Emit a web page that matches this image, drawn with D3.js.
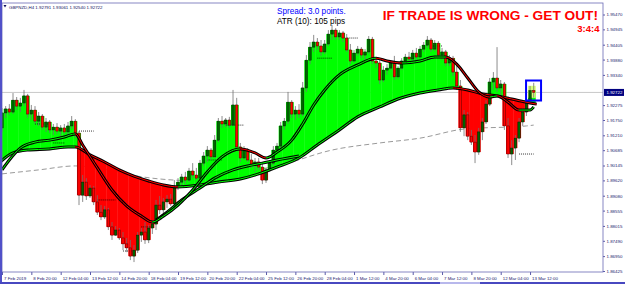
<!DOCTYPE html>
<html>
<head>
<meta charset="utf-8">
<script src="https://cdn.jsdelivr.net/npm/d3@7"></script>
<style>
  body { margin: 0; background: #fff; }
  svg { display: block; font-family: 'Liberation Sans', Arial, sans-serif; }
  .axis text { font-family: 'Liberation Sans', Arial, sans-serif; font-size: 4.4px; fill: #1a1a6e; }
  .axis line { stroke: #5a5aa8; }
</style>
</head>
<body>
<div id="chart-area"></div>
<script>
// GBPNZD H4 candles, 7 Feb 12:00 .. 13 Mar 16:00
let opens = [
  1.9147, 1.9200, 1.9214, 1.9203, 1.9245, 1.9224, 1.9235, 1.9260, 1.9196, 1.9210,
  1.9171, 1.9189, 1.9150, 1.9168, 1.9140, 1.9150, 1.9136, 1.9147, 1.9133, 1.9154,
  1.9171, 1.9129, 1.8910, 1.8956, 1.8907, 1.8935, 1.8886, 1.8850, 1.8833, 1.8858,
  1.8798, 1.8769, 1.8787, 1.8759, 1.8738, 1.8724, 1.8695, 1.8716, 1.8769, 1.8780,
  1.8752, 1.8794, 1.8808, 1.8875, 1.8858, 1.8886, 1.8896, 1.8879, 1.8942, 1.8956,
  1.8974, 1.8963, 1.8995, 1.8981, 1.8970, 1.9023, 1.9048, 1.9069, 1.9045, 1.9104,
  1.9171, 1.9161, 1.9175, 1.9157, 1.9228, 1.9080, 1.9041, 1.9069, 1.9034, 1.9016,
  1.9027, 1.9009, 1.8963, 1.8999, 1.9023, 1.9069, 1.9083, 1.9154, 1.9171, 1.9238,
  1.9196, 1.9210, 1.9196, 1.9288, 1.9386, 1.9432, 1.9450, 1.9436, 1.9415, 1.9443,
  1.9478, 1.9492, 1.9468, 1.9482, 1.9464, 1.9422, 1.9383, 1.9411, 1.9425, 1.9404,
  1.9415, 1.9460, 1.9383, 1.9376, 1.9316, 1.9351, 1.9358, 1.9376, 1.9327, 1.9358,
  1.9383, 1.9397, 1.9390, 1.9411, 1.9397, 1.9425, 1.9439, 1.9457, 1.9425, 1.9446,
  1.9404, 1.9415, 1.9376, 1.9393, 1.9344, 1.9295, 1.9147, 1.9193, 1.9118, 1.9097,
  1.9062, 1.9133, 1.9168, 1.9231, 1.9309, 1.9323, 1.9288, 1.9302, 1.9154, 1.9055,
  1.9076, 1.9111, 1.9168, 1.9203, 1.9245, 1.92791
];
let highs = [
  1.9217, 1.9224, 1.9231, 1.9270, 1.9256, 1.9253, 1.9281, 1.9267, 1.9228, 1.9224,
  1.9203, 1.9196, 1.9182, 1.9175, 1.9161, 1.9164, 1.9157, 1.9161, 1.9168, 1.9189,
  1.9178, 1.9136, 1.8981, 1.8970, 1.8946, 1.8942, 1.8910, 1.8875, 1.8872, 1.8865,
  1.8815, 1.8801, 1.8794, 1.8780, 1.8759, 1.8752, 1.8734, 1.8780, 1.8794, 1.8815,
  1.8805, 1.8822, 1.8893, 1.8907, 1.8900, 1.8910, 1.8914, 1.8963, 1.8970, 1.8985,
  1.8992, 1.9006, 1.9023, 1.9006, 1.9034, 1.9062, 1.9083, 1.9076, 1.9122, 1.9182,
  1.9189, 1.9182, 1.9186, 1.9281, 1.9253, 1.9094, 1.9083, 1.9076, 1.9055, 1.9041,
  1.9041, 1.9020, 1.9006, 1.9034, 1.9083, 1.9094, 1.9168, 1.9182, 1.9274, 1.9245,
  1.9224, 1.9231, 1.9309, 1.9404, 1.9450, 1.9475, 1.9464, 1.9457, 1.9457, 1.9492,
  1.9510, 1.9499, 1.9492, 1.9489, 1.9478, 1.9443, 1.9422, 1.9436, 1.9432, 1.9425,
  1.9471, 1.9468, 1.9393, 1.9386, 1.9365, 1.9372, 1.9386, 1.9401, 1.9365, 1.9393,
  1.9408, 1.9415, 1.9422, 1.9429, 1.9436, 1.9450, 1.9471, 1.9464, 1.9457, 1.9453,
  1.9429, 1.9422, 1.9404, 1.9401, 1.9372, 1.9316, 1.9210, 1.9203, 1.9140, 1.9122,
  1.9147, 1.9182, 1.9245, 1.9323, 1.9344, 1.9432, 1.9316, 1.9309, 1.9182, 1.9104,
  1.9122, 1.9182, 1.9217, 1.9263, 1.9295, 1.93061
];
let lows = [
  1.9133, 1.9182, 1.9193, 1.9196, 1.9210, 1.9203, 1.9224, 1.9182, 1.9175, 1.9161,
  1.9154, 1.9140, 1.9133, 1.9129, 1.9122, 1.9126, 1.9118, 1.9126, 1.9122, 1.9143,
  1.9111, 1.8875, 1.8886, 1.8893, 1.8900, 1.8875, 1.8840, 1.8822, 1.8826, 1.8787,
  1.8752, 1.8766, 1.8752, 1.8716, 1.8709, 1.8681, 1.8674, 1.8706, 1.8745, 1.8738,
  1.8741, 1.8773, 1.8787, 1.8843, 1.8847, 1.8865, 1.8872, 1.8872, 1.8928, 1.8942,
  1.8949, 1.8956, 1.8970, 1.8963, 1.8963, 1.9013, 1.9027, 1.9034, 1.9041, 1.9097,
  1.9147, 1.9150, 1.9147, 1.9154, 1.9069, 1.9027, 1.9034, 1.9027, 1.9006, 1.8992,
  1.8999, 1.8949, 1.8953, 1.8992, 1.9016, 1.9059, 1.9076, 1.9140, 1.9161, 1.9182,
  1.9175, 1.9182, 1.9189, 1.9274, 1.9372, 1.9415, 1.9422, 1.9401, 1.9408, 1.9436,
  1.9457, 1.9457, 1.9457, 1.9450, 1.9415, 1.9372, 1.9379, 1.9401, 1.9393, 1.9386,
  1.9408, 1.9372, 1.9358, 1.9302, 1.9309, 1.9334, 1.9351, 1.9316, 1.9320, 1.9351,
  1.9372, 1.9379, 1.9383, 1.9386, 1.9393, 1.9415, 1.9429, 1.9415, 1.9418, 1.9393,
  1.9386, 1.9365, 1.9365, 1.9330, 1.9281, 1.9133, 1.9118, 1.9104, 1.9087, 1.9023,
  1.9052, 1.9104, 1.9161, 1.9224, 1.9281, 1.9274, 1.9253, 1.9140, 1.9041, 1.9016,
  1.9034, 1.9097, 1.9154, 1.9189, 1.9231, 1.92540
];
let closes = [
  1.9200, 1.9214, 1.9203, 1.9245, 1.9224, 1.9235, 1.9260, 1.9196, 1.9210, 1.9171,
  1.9189, 1.9150, 1.9168, 1.9140, 1.9150, 1.9136, 1.9147, 1.9133, 1.9154, 1.9171,
  1.9129, 1.8910, 1.8956, 1.8907, 1.8935, 1.8886, 1.8850, 1.8833, 1.8858, 1.8798,
  1.8769, 1.8787, 1.8759, 1.8738, 1.8724, 1.8695, 1.8716, 1.8769, 1.8780, 1.8752,
  1.8794, 1.8808, 1.8875, 1.8858, 1.8886, 1.8896, 1.8879, 1.8942, 1.8956, 1.8974,
  1.8963, 1.8995, 1.8981, 1.8970, 1.9023, 1.9048, 1.9069, 1.9045, 1.9104, 1.9171,
  1.9161, 1.9175, 1.9157, 1.9228, 1.9080, 1.9041, 1.9069, 1.9034, 1.9016, 1.9027,
  1.9009, 1.8963, 1.8999, 1.9023, 1.9069, 1.9083, 1.9154, 1.9171, 1.9238, 1.9196,
  1.9210, 1.9196, 1.9288, 1.9386, 1.9432, 1.9450, 1.9436, 1.9415, 1.9443, 1.9478,
  1.9492, 1.9468, 1.9482, 1.9464, 1.9422, 1.9383, 1.9411, 1.9425, 1.9404, 1.9415,
  1.9460, 1.9383, 1.9376, 1.9316, 1.9351, 1.9358, 1.9376, 1.9327, 1.9358, 1.9383,
  1.9397, 1.9390, 1.9411, 1.9397, 1.9425, 1.9439, 1.9457, 1.9425, 1.9446, 1.9404,
  1.9415, 1.9376, 1.9393, 1.9344, 1.9295, 1.9147, 1.9193, 1.9118, 1.9097, 1.9062,
  1.9133, 1.9168, 1.9231, 1.9309, 1.9323, 1.9288, 1.9302, 1.9154, 1.9055, 1.9076,
  1.9111, 1.9168, 1.9203, 1.9245, 1.92791, 1.92722
];

// Indicator lines at sample bars
let slowBars = [0, 3, 7, 13, 18, 20, 24, 28, 32, 36, 40, 44, 48, 54, 59, 65, 70, 75, 81, 86, 92, 97, 103, 108, 114, 119, 123, 127, 131, 135, 139, 144, 145];
let slowVals = [1.9023, 1.9059, 1.9069, 1.9073, 1.9080, 1.9080, 1.9052, 1.9027, 1.8999, 1.8977, 1.8960, 1.8946, 1.8939, 1.8946, 1.8956, 1.8967, 1.8985, 1.9009, 1.9041, 1.9087, 1.9140, 1.9186, 1.9221, 1.9249, 1.9270, 1.9281, 1.9288, 1.9281, 1.9267, 1.9260, 1.9249, 1.9235, 1.9231];

let fastBars = [0, 2, 5, 9, 13, 17, 20, 22, 26, 30, 34, 38, 41, 44, 48, 52, 56, 60, 65, 69, 72, 75, 79, 82, 85, 88, 92, 97, 102, 105, 109, 114, 118, 121, 124, 127, 130, 133, 135, 138, 141, 144, 145];
let fastVals = [1.8999, 1.9034, 1.9076, 1.9097, 1.9104, 1.9115, 1.9126, 1.9087, 1.9006, 1.8928, 1.8872, 1.8836, 1.8815, 1.8836, 1.8875, 1.8928, 1.8992, 1.9045, 1.9073, 1.9059, 1.9041, 1.9062, 1.9104, 1.9161, 1.9228, 1.9281, 1.9334, 1.9369, 1.9393, 1.9383, 1.9376, 1.9383, 1.9397, 1.9397, 1.9372, 1.9323, 1.9274, 1.9256, 1.9260, 1.9238, 1.9210, 1.9210, 1.9221];

let midBars = [42, 45, 49, 54, 58, 63, 67, 71, 75, 78, 81];
let midVals = [1.8822, 1.8850, 1.8893, 1.8935, 1.8970, 1.8999, 1.9013, 1.9023, 1.9034, 1.9041, 1.9048];

let longBars = [0, 10, 20, 29, 37, 47, 54, 59, 65, 76, 90, 103, 114, 126, 143, 145];
let longVals = [1.8985, 1.8999, 1.9013, 1.8999, 1.8977, 1.8963, 1.8960, 1.8970, 1.8988, 1.9016, 1.9069, 1.9094, 1.9111, 1.9143, 1.9154, 1.9157];

// Short dotted levels
let levelFrom = [9, 14, 21, 26, 33, 38, 56, 61, 86, 94, 117, 141];
let levelTo = [13, 17, 25, 31, 36, 41, 60, 66, 90, 97, 120, 145];
let levelPrice = [1.9161, 1.9094, 1.9136, 1.8893, 1.8713, 1.8798, 1.9034, 1.9157, 1.9393, 1.9464, 1.9436, 1.9055];

// Axis labels (1.92815 sits under the price tag, so it is left out)
let timeLabels = ['7 Feb 2019', '8 Feb 20:00', '12 Feb 04:00', '13 Feb 12:00', '14 Feb 20:00', '18 Feb 04:00', '19 Feb 12:00', '20 Feb 20:00', '22 Feb 04:00', '25 Feb 12:00', '26 Feb 20:00', '28 Feb 04:00', '1 Mar 12:00', '4 Mar 20:00', '6 Mar 04:00', '7 Mar 12:00', '8 Mar 20:00', '12 Mar 04:00', '13 Mar 12:00'];
let priceTicks = [1.9547, 1.94945, 1.94405, 1.9388, 1.9334, 1.92275, 1.9175, 1.9121, 1.90685, 1.90145, 1.8962, 1.8908, 1.88555, 1.88015, 1.8749, 1.8695, 1.86425];

// SVG drawing area
let W = 625, H = 284;
let plot = { left: 2, right: 603, top: 3, bottom: 272 };
let barStep = 3.667;

let svg = d3.select('#chart-area').append('svg').attr('width', W).attr('height', H);
let defs = svg.append('defs');

// Scales
let last = closes.length - 1;
let x = d3.scaleLinear().domain([0, last]).range([plot.left, plot.left + last * barStep]);
let y = d3.scaleLinear().domain([1.86425, 1.9547]).range([271, 14.5]);

defs.append('clipPath').attr('id', 'plot-clip')
  .append('rect')
  .attr('x', plot.left).attr('y', plot.top)
  .attr('width', plot.right - plot.left).attr('height', plot.bottom - plot.top);

let chart = svg.append('g').attr('clip-path', 'url(#plot-clip)');

let bars = closes.map((c, i) => ({ i, o: opens[i], h: highs[i], l: lows[i], c }));
let zip = (b, v) => b.map((d, k) => [d, v[k]]);

let slowPts = zip(slowBars, slowVals);
// stretch the ends half a bar so the first/last columns are covered
let slowX = (d, k) => x(d[0]) + (k === 0 ? -3 : k === slowPts.length - 1 ? 3 : 0);

// Regions above / below the slow line
defs.append('clipPath').attr('id', 'above').append('path')
  .attr('d', d3.area().x(slowX).y0(0).y1(d => y(d[1])).curve(d3.curveMonotoneX)(slowPts));
defs.append('clipPath').attr('id', 'below').append('path')
  .attr('d', d3.area().x(slowX).y0(H).y1(d => y(d[1])).curve(d3.curveMonotoneX)(slowPts));

// Bid line
chart.append('line')
  .attr('x1', plot.left).attr('x2', plot.right)
  .attr('y1', y(closes[last])).attr('y2', y(closes[last]))
  .attr('stroke', '#c8c8c8').attr('stroke-width', 1);

// Long average (dashed)
chart.append('path')
  .attr('d', d3.line().x(d => x(d[0])).y(d => y(d[1])).curve(d3.curveMonotoneX)(zip(longBars, longVals)))
  .attr('fill', 'none').attr('stroke', '#9a9a9a').attr('stroke-width', 1)
  .attr('stroke-dasharray', '5,3');

// Green columns: body top down to slow line
chart.append('g').selectAll('rect').data(bars).join('rect')
  .attr('x', d => x(d.i) - barStep / 2 - 0.2)
  .attr('width', barStep + 0.4)
  .attr('y', d => y(Math.max(d.o, d.c)))
  .attr('height', d => H - y(Math.max(d.o, d.c)))
  .attr('fill', '#00ff00')
  .attr('clip-path', 'url(#above)');

// Red columns: slow line down to body bottom
chart.append('g').selectAll('rect').data(bars).join('rect')
  .attr('x', d => x(d.i) - barStep / 2 - 0.2)
  .attr('width', barStep + 0.4)
  .attr('y', 0)
  .attr('height', d => y(Math.min(d.o, d.c)))
  .attr('fill', '#ff0000')
  .attr('clip-path', 'url(#below)');

// Highlight behind the last candles
chart.append('rect')
  .attr('x', x(last - 1) - 2).attr('y', y(highs[last]) + 3)
  .attr('width', x(last) - x(last - 1) + 4).attr('height', 12)
  .attr('fill', '#d8ff7a');

// Dotted levels
chart.append('g').selectAll('line').data(levelPrice).join('line')
  .attr('x1', (d, k) => x(levelFrom[k])).attr('x2', (d, k) => x(levelTo[k]))
  .attr('y1', d => y(d)).attr('y2', d => y(d))
  .attr('stroke', '#000').attr('stroke-width', 0.8)
  .attr('stroke-dasharray', '1,1');

// Candles
let candles = chart.append('g');
candles.selectAll('line').data(bars).join('line')
  .attr('x1', d => x(d.i)).attr('x2', d => x(d.i))
  .attr('y1', d => y(d.h)).attr('y2', d => y(d.l))
  .attr('stroke', '#707070').attr('stroke-width', 0.8);
candles.selectAll('rect').data(bars).join('rect')
  .attr('x', d => x(d.i) - 1.2)
  .attr('width', 2.4)
  .attr('y', d => y(Math.max(d.o, d.c)))
  .attr('height', d => Math.max(0.8, Math.abs(y(d.o) - y(d.c))))
  .attr('fill', d => (d.c >= d.o ? '#006400' : '#ff0000'))
  .attr('stroke', d => (d.c >= d.o ? '#002400' : '#5a0000'))
  .attr('stroke-width', 0.5);

// Double line, inner colour green when rising and red when falling
function doubleLine(pts, id, xFn) {
  let grad = defs.append('linearGradient').attr('id', id)
    .attr('gradientUnits', 'userSpaceOnUse')
    .attr('x1', 0).attr('y1', 0).attr('x2', W).attr('y2', 0);
  pts.slice(1).forEach((p, k) => {
    let color = p[1] >= pts[k][1] ? '#00ff00' : '#ff0000';
    grad.append('stop').attr('offset', x(pts[k][0]) / W).attr('stop-color', color);
    grad.append('stop').attr('offset', x(p[0]) / W).attr('stop-color', color);
  });
  let line = d3.line().x(xFn || (d => x(d[0]))).y(d => y(d[1])).curve(d3.curveMonotoneX);
  chart.append('path').attr('d', line(pts))
    .attr('fill', 'none').attr('stroke', '#000').attr('stroke-width', 3);
  chart.append('path').attr('d', line(pts))
    .attr('fill', 'none').attr('stroke', `url(#${id})`).attr('stroke-width', 1);
}

doubleLine(slowPts, 'g-slow', slowX);
doubleLine(zip(midBars, midVals), 'g-mid');
doubleLine(zip(fastBars, fastVals), 'g-fast');

// Box round the current candle
svg.append('rect')
  .attr('x', x(last - 1) - 4).attr('y', 80.5)
  .attr('width', 15).attr('height', 20)
  .attr('fill', 'none').attr('stroke', '#0000ff').attr('stroke-width', 2);

// Axes
svg.append('g').attr('class', 'axis')
  .attr('transform', `translate(0,${plot.bottom})`)
  .call(d3.axisBottom(x).tickValues(d3.range(0, last, 8)).tickFormat((d, k) => timeLabels[k]).tickSize(3).tickPadding(2))
  .call(g => g.select('.domain').remove())
  .selectAll('text').attr('text-anchor', 'start').attr('x', 1.5);

svg.append('g').attr('class', 'axis')
  .attr('transform', `translate(${plot.right},0)`)
  .call(d3.axisRight(y).tickValues(priceTicks).tickFormat(d3.format('.5f')).tickSize(2).tickPadding(1.5))
  .call(g => g.select('.domain').remove());

// Current price tag
let fmt = d3.format('.5f');
svg.append('rect')
  .attr('x', plot.right + 1).attr('y', y(closes[last]) - 3.5)
  .attr('width', 20).attr('height', 7).attr('fill', '#000080');
svg.append('text')
  .attr('x', plot.right + 3.5).attr('y', y(closes[last]) + 1.6)
  .attr('font-size', 4.4).attr('fill', '#fff')
  .text(fmt(closes[last]));

// Frame
svg.append('rect')
  .attr('x', plot.left).attr('y', plot.top)
  .attr('width', plot.right - plot.left).attr('height', plot.bottom - plot.top)
  .attr('fill', 'none').attr('stroke', '#6a6ab4').attr('stroke-width', 0.8);
svg.append('rect').attr('x', 0).attr('y', 0).attr('width', 2).attr('height', H).attr('fill', '#5050c8');
svg.append('rect').attr('x', 0).attr('y', H - 2).attr('width', W).attr('height', 2).attr('fill', '#4848c0');
svg.append('rect').attr('x', 440).attr('y', H - 2).attr('width', 40).attr('height', 2).attr('fill', '#b8b8ec');

// Header
svg.append('path').attr('d', 'M3.5,5L6.5,5L5,7.5Z').attr('fill', '#101060');
svg.append('text')
  .attr('x', 9).attr('y', 8.5)
  .attr('font-size', 4.4).attr('fill', '#101060')
  .text(`GBPNZD,H4  ${fmt(opens[last])} ${fmt(highs[last])} ${fmt(lows[last])} ${fmt(closes[last])}`);

// Info texts
svg.append('text').attr('x', 277).attr('y', 13.5)
  .attr('font-size', 8.2).attr('fill', '#0000ff')
  .text('Spread: 3.0 points.');
svg.append('text').attr('x', 277).attr('y', 23.5)
  .attr('font-size', 8.2).attr('fill', '#000')
  .text('ATR (10): 105 pips');
svg.append('text').attr('x', 598).attr('y', 19.5)
  .attr('text-anchor', 'end').attr('font-size', 13.7).attr('font-weight', 'bold').attr('fill', '#ff0000')
  .text('IF TRADE IS WRONG - GET OUT!');
svg.append('text').attr('x', 599.5).attr('y', 32)
  .attr('text-anchor', 'end').attr('font-size', 9.5).attr('font-weight', 'bold').attr('fill', '#ff0000')
  .text('3:4:4');
</script>
</body>
</html>
